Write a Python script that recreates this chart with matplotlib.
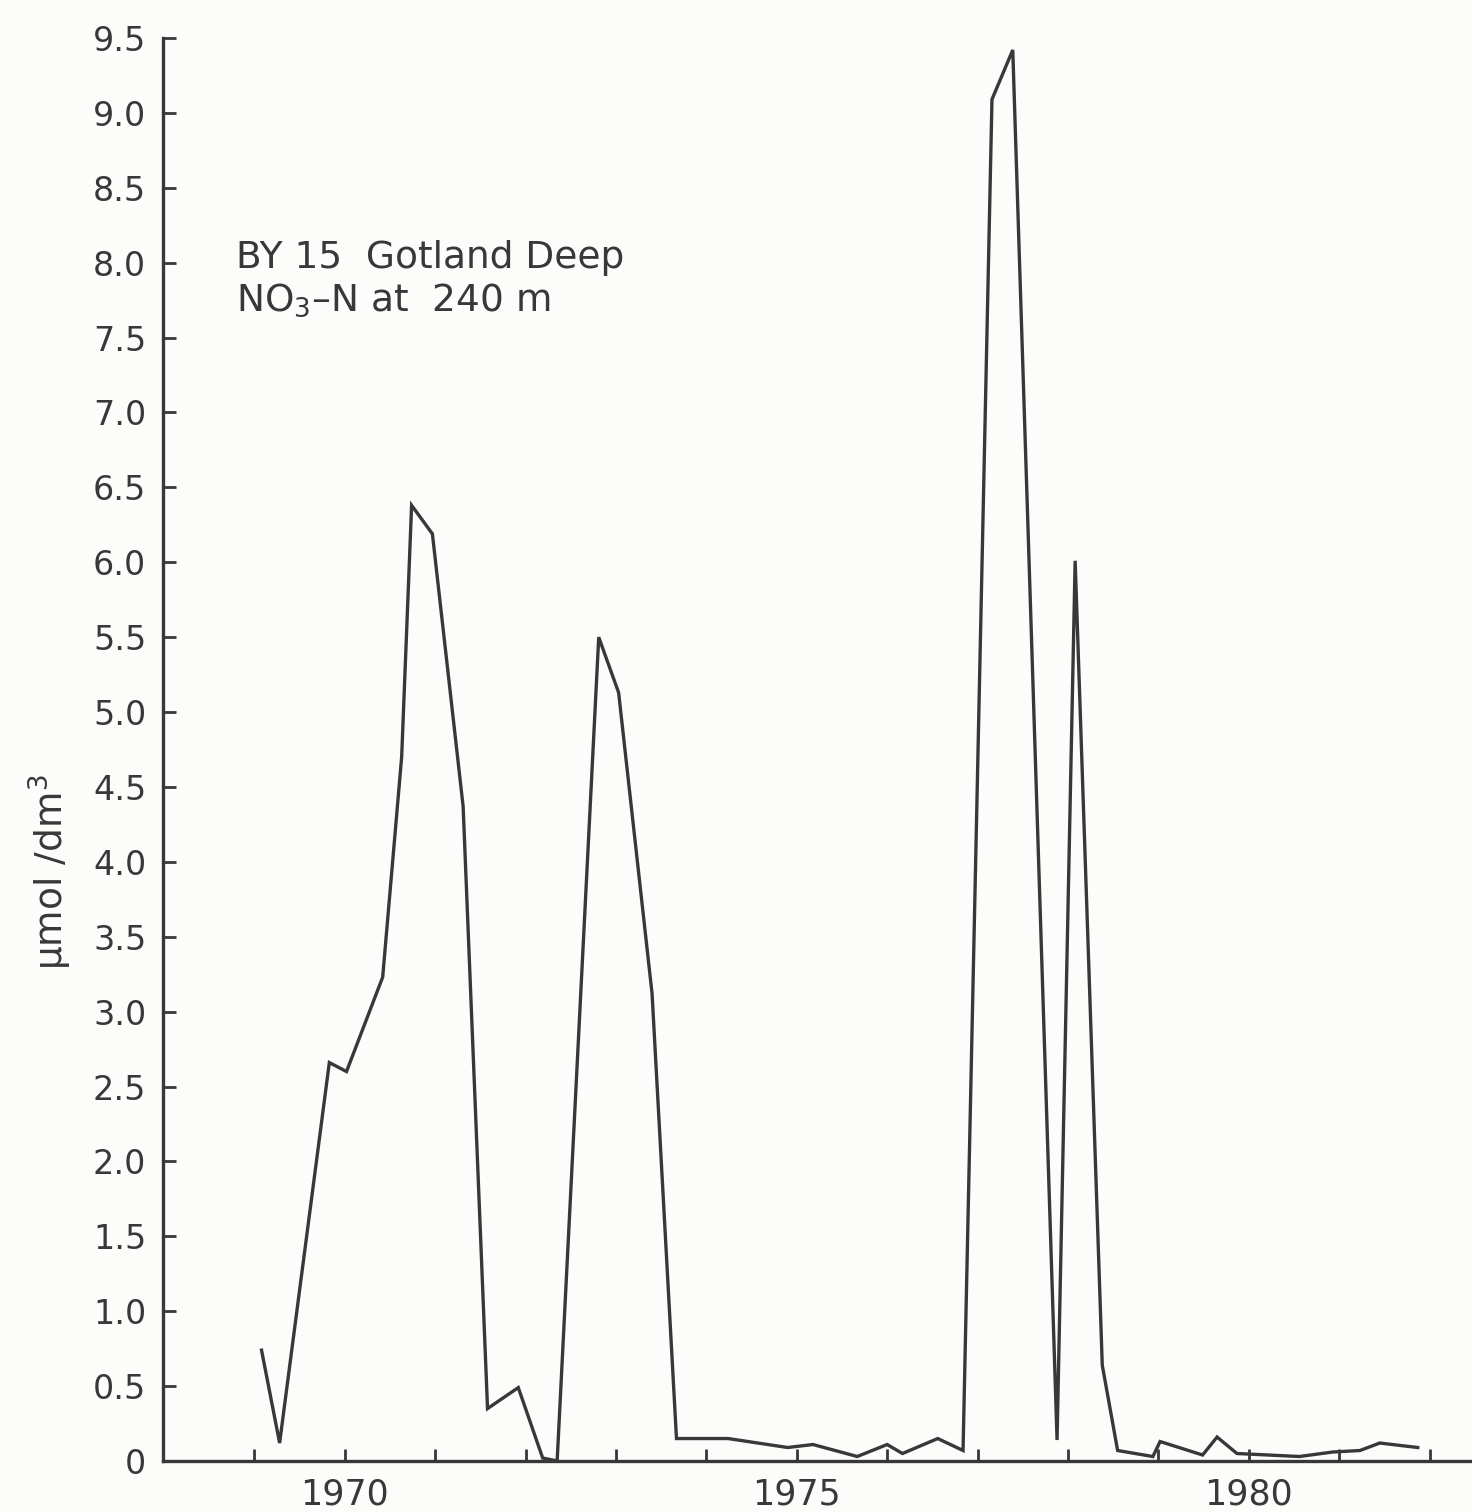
import matplotlib
matplotlib.use("Agg")
import matplotlib.pyplot as plt

# Data
years = [1969.08, 1969.28, 1969.83, 1970.02, 1970.42, 1970.63, 1970.74, 1970.97,
         1971.31, 1971.58, 1971.92, 1972.19, 1972.35, 1972.81, 1973.03, 1973.40,
         1973.67, 1974.24, 1974.90, 1975.18, 1975.67, 1976.00, 1976.17, 1976.56,
         1976.84, 1977.16, 1977.39, 1977.88, 1978.08, 1978.38, 1978.55, 1978.94,
         1979.02, 1979.49, 1979.65, 1979.87, 1980.56, 1980.93, 1981.23, 1981.45,
         1981.87]
no3 = [0.74, 0.12, 2.66, 2.60, 3.23, 4.70, 6.38, 6.19,
       4.37, 0.35, 0.49, 0.02, 0.00, 5.50, 5.13, 3.12,
       0.15, 0.15, 0.09, 0.11, 0.03, 0.11, 0.05, 0.15,
       0.07, 9.09, 9.42, 0.14, 6.01, 0.64, 0.07, 0.03,
       0.13, 0.04, 0.16, 0.05, 0.03, 0.06, 0.07, 0.12,
       0.09]

y_ticks = [0, 0.5, 1.0, 1.5, 2.0, 2.5, 3.0, 3.5, 4.0, 4.5, 5.0, 5.5,
           6.0, 6.5, 7.0, 7.5, 8.0, 8.5, 9.0, 9.5]
y_ticklabels = ["0", "0.5", "1.0", "1.5", "2.0", "2.5", "3.0", "3.5", "4.0", "4.5",
                "5.0", "5.5", "6.0", "6.5", "7.0", "7.5", "8.0", "8.5", "9.0", "9.5"]
x_ticks = list(range(1969, 1983))
x_labels = {1970: "1970", 1975: "1975", 1980: "1980"}

ink = "#383838"
bg = "#fcfcfb"

W, H = 1472, 1512
fig = plt.figure(figsize=(W / 100, H / 100), dpi=100, facecolor=bg)
ax = fig.add_axes([163 / W, (H - 1461) / H, (W - 163) / W, (1461 - 38) / H])
ax.set_facecolor(bg)

ax.plot(years, no3, color=ink, lw=2.4, solid_joinstyle="miter", clip_on=False)

ax.set_xlim(1967.99, 1982.47)
ax.set_ylim(0, 9.5)

for s in ("top", "right"):
    ax.spines[s].set_visible(False)
for s in ("left", "bottom"):
    ax.spines[s].set_color(ink)
    ax.spines[s].set_linewidth(2.4)

ax.set_yticks(y_ticks)
ax.set_yticklabels(y_ticklabels)
ax.set_xticks(x_ticks)
ax.set_xticklabels([x_labels.get(y, "") for y in x_ticks])
ax.tick_params(axis="both", direction="in", length=9, width=2.0, color=ink,
               labelcolor=ink, labelsize=24)
ax.tick_params(axis="y", pad=12)
ax.tick_params(axis="x", pad=12, labelsize=25)

fig.text(50 / W, (H - 872) / H, "μmol /dm$^3$", rotation=90, ha="center", va="center",
         fontsize=27, color=ink)
fig.text(236 / W, (H - 258) / H, "BY 15  Gotland Deep", ha="left", va="center",
         fontsize=27, color=ink)
fig.text(236 / W, (H - 300) / H, "NO$_3$–N at  240 m", ha="left", va="center",
         fontsize=27, color=ink)

fig.savefig("out.png", dpi=100, facecolor=bg)
